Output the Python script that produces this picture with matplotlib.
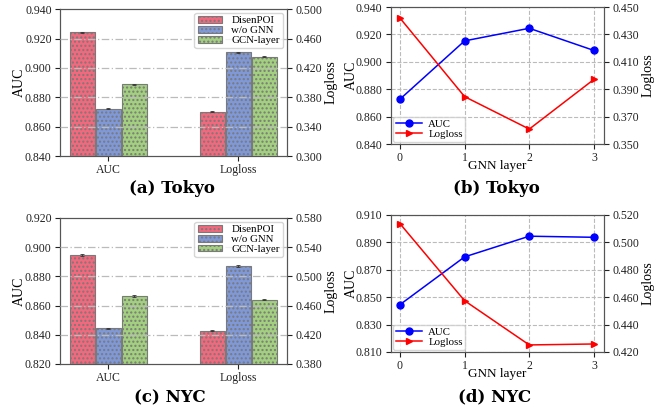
import matplotlib
matplotlib.use("Agg")
import matplotlib.pyplot as plt
import numpy as np

plt.rcParams['font.family'] = ['Liberation Serif', 'DejaVu Serif']
plt.rcParams['hatch.color'] = '#858585'
plt.rcParams['hatch.linewidth'] = 1.0

# ---- data ----
methods = ['DisenPOI', 'w/o GNN', 'GCN-layer']
groups = ['AUC', 'Logloss']
tokyo_auc = [0.9243, 0.8723, 0.8887]
tokyo_logloss = [0.3603, 0.4412, 0.4350]
nyc_auc = [0.8946, 0.8445, 0.8665]
nyc_logloss = [0.4253, 0.5141, 0.4679]

layers = [0, 1, 2, 3]
tokyo_layer_auc = [0.8727, 0.9153, 0.9245, 0.9083]
tokyo_layer_logloss = [0.4420, 0.3846, 0.3609, 0.3972]
nyc_layer_auc = [0.8445, 0.8794, 0.8945, 0.8937]
nyc_layer_logloss = [0.5137, 0.4574, 0.4251, 0.4258]

bar_colors = ['#f2687c', '#7f98d8', '#a2d07f']
captions = ['(a) Tokyo', '(b) Tokyo', '(c) NYC', '(d) NYC']

fig = plt.figure(figsize=(6.67, 4.15), dpi=100)

TICK_FS = 8.5
LAB_FS = 10
spine_col = '#555555'


def style_axes(ax):
    for s in ax.spines.values():
        s.set_color(spine_col)
    ax.tick_params(labelsize=TICK_FS, colors='#222222', pad=2.5)


def bar_panel(rect, auc, logloss, auc_lim, ll_lim, auc_ticks, ll_ticks):
    ax = fig.add_axes(rect)
    ax2 = ax.twinx()
    w = 0.19
    step = 0.2
    handles = []
    for i, m in enumerate(methods):
        off = (i - 1) * step
        h = ax.bar(0 + off, auc[i], width=w, color=bar_colors[i], edgecolor='#7a7a7a',
                   hatch='....', linewidth=0.8, yerr=0.0004, capsize=1.2,
                   error_kw=dict(elinewidth=0.6, capthick=0.6, ecolor='#333333'), label=m, zorder=2)
        ax2.bar(1 + off, logloss[i], width=w, color=bar_colors[i], edgecolor='#7a7a7a',
                hatch='....', linewidth=0.8, yerr=0.0008, capsize=1.2,
                error_kw=dict(elinewidth=0.6, capthick=0.6, ecolor='#333333'), zorder=2)
        handles.append(h)
    ax.set_xlim(-0.372, 1.372)
    ax.set_ylim(*auc_lim)
    ax2.set_ylim(*ll_lim)
    ax.set_yticks(auc_ticks)
    ax.set_yticklabels([f'{t:.3f}' for t in auc_ticks])
    ax2.set_yticks(ll_ticks)
    ax2.set_yticklabels([f'{t:.3f}' for t in ll_ticks])
    ax.set_xticks([0, 1])
    ax.set_xticklabels(groups)
    ax.set_ylabel('AUC', fontsize=LAB_FS)
    ax.yaxis.set_label_coords(-0.15, 0.5)
    ax2.set_ylabel('Logloss', fontsize=LAB_FS)
    ax2.yaxis.set_label_coords(1.165, 0.5)
    for t in auc_ticks[1:-1]:
        ax2.axhline(ll_lim[0] + (t - auc_lim[0]) / (auc_lim[1] - auc_lim[0]) * (ll_lim[1] - ll_lim[0]),
                    color='#bbbbbb', linestyle=(0, (6, 2, 1, 2)), linewidth=0.9, zorder=3)
    style_axes(ax)
    style_axes(ax2)
    leg = ax2.legend(handles, methods, loc='upper right', fontsize=7.8, frameon=True,
                     handlelength=2.2, handleheight=0.6, borderpad=0.3, labelspacing=0.05,
                     borderaxespad=0.35, handletextpad=0.9, fancybox=True)
    leg.get_frame().set_edgecolor('#cccccc')
    leg.set_zorder(5)
    return ax


def line_panel(rect, auc, logloss, auc_lim, ll_lim, auc_ticks, ll_ticks):
    ax = fig.add_axes(rect)
    ax2 = ax.twinx()
    l1, = ax.plot(layers, auc, color='blue', marker='o', markersize=5, linewidth=1.1, label='AUC')
    l2, = ax2.plot(layers, logloss, color='red', marker='>', markersize=5, linewidth=1.1, label='Logloss')
    ax.set_xlim(-0.14, 3.16)
    ax.set_ylim(*auc_lim)
    ax2.set_ylim(*ll_lim)
    ax.set_yticks(auc_ticks)
    ax.set_yticklabels([f'{t:.3f}' for t in auc_ticks])
    ax2.set_yticks(ll_ticks)
    ax2.set_yticklabels([f'{t:.3f}' for t in ll_ticks])
    ax.set_xticks(layers)
    ax.grid(True, color='#bbbbbb', linestyle='--', linewidth=0.8)
    ax.set_xlabel('GNN layer', fontsize=9.5)
    ax.xaxis.set_label_coords(0.5, -0.115)
    ax.set_ylabel('AUC', fontsize=LAB_FS)
    ax.yaxis.set_label_coords(-0.155, 0.5)
    ax2.set_ylabel('Logloss', fontsize=LAB_FS)
    ax2.yaxis.set_label_coords(1.175, 0.5)
    style_axes(ax)
    style_axes(ax2)
    leg = ax2.legend([l1, l2], ['AUC', 'Logloss'], loc='lower left', fontsize=7.8,
                     handlelength=2.4, borderpad=0.25, labelspacing=0.05, borderaxespad=0.2,
                     handletextpad=0.6)
    leg.get_frame().set_edgecolor('#cccccc')
    return ax


bar_panel([0.090, 0.624, 0.340, 0.354], tokyo_auc, tokyo_logloss,
          (0.84, 0.94), (0.30, 0.50),
          [0.84, 0.86, 0.88, 0.90, 0.92, 0.94], [0.30, 0.34, 0.38, 0.42, 0.46, 0.50])
line_panel([0.586, 0.653, 0.320, 0.330], tokyo_layer_auc, tokyo_layer_logloss,
           (0.84, 0.94), (0.35, 0.45),
           [0.84, 0.86, 0.88, 0.90, 0.92, 0.94], [0.35, 0.37, 0.39, 0.41, 0.43, 0.45])
bar_panel([0.090, 0.123, 0.340, 0.352], nyc_auc, nyc_logloss,
          (0.82, 0.92), (0.38, 0.58),
          [0.82, 0.84, 0.86, 0.88, 0.90, 0.92], [0.38, 0.42, 0.46, 0.50, 0.54, 0.58])
line_panel([0.586, 0.152, 0.320, 0.330], nyc_layer_auc, nyc_layer_logloss,
           (0.81, 0.91), (0.42, 0.52),
           [0.81, 0.83, 0.85, 0.87, 0.89, 0.91], [0.42, 0.44, 0.46, 0.48, 0.50, 0.52])

cap_pos = [(0.258, 0.545), (0.744, 0.545), (0.255, 0.041), (0.742, 0.043)]
for (x, y), c in zip(cap_pos, captions):
    fig.text(x, y, c, ha='center', va='center', fontsize=12, fontweight='bold',
             family=['DejaVu Serif'])

fig.savefig('out.png', dpi=100)
